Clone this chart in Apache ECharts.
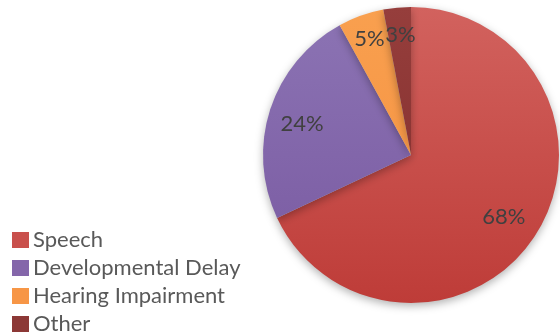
<!DOCTYPE html>
<html>
<head>
<meta charset="utf-8">
<script src="https://cdn.jsdelivr.net/npm/echarts@6/dist/echarts.min.js"></script>
<style>
html,body{margin:0;padding:0;background:#fff;}
#chart{width:560px;height:336px;}
</style>
</head>
<body>
<div id="chart"></div>
<script>
const categories = ['Speech', 'Developmental Delay', 'Hearing Impairment', 'Other'];
const values = [68, 24, 5, 3];
const topColors = ['#D2625E', '#8C74B4', '#F9A04F', '#963E3C'];
const bottomColors = ['#BE3C38', '#7858A0', '#F48E3E', '#7E2B2A'];
const solidColors = ['#C9504C', '#8466AA', '#F79646', '#8C3836'];

const CX = 411, CY = 155, R = 148;
// small nudges mimicking the original's best-fit label placement
const labelNudge = [[-11, -4], [8, 7], [0, 0], [1, 2]];

function grad(i) {
  return {
    type: 'linear', global: true,
    x: 0, y: CY - R, x2: 0, y2: CY + R,
    colorStops: [{offset: 0, color: topColors[i]}, {offset: 1, color: bottomColors[i]}]
  };
}

const chart = echarts.init(document.getElementById('chart'), null, {renderer: 'canvas'});
chart.setOption({
  animation: false,
  legend: {
    orient: 'vertical',
    left: 12,
    bottom: 1,
    padding: 0,
    itemWidth: 17,
    itemHeight: 16,
    itemGap: 6,
    icon: 'rect',
    textStyle: {fontFamily: 'Lato', fontSize: 22, color: '#595959', lineHeight: 22, padding: [0, 0, 0, -1]},
    data: categories.map((c, i) => ({name: c, itemStyle: {color: solidColors[i]}}))
  },
  series: [
    {
      type: 'pie',
      center: [CX, CY],
      radius: [0, R],
      startAngle: 90,
      clockwise: true,
      label: {show: false},
      labelLine: {show: false},
      emphasis: {disabled: true},
      itemStyle: {shadowBlur: 8, shadowOffsetY: 3, shadowColor: 'rgba(0,0,0,0.3)'},
      data: categories.map((c, i) => ({name: c, value: values[i], itemStyle: {color: grad(i)}}))
    },
    {
      type: 'pie',
      center: [CX, CY],
      radius: [R * 0.62, R],
      startAngle: 90,
      clockwise: true,
      silent: true,
      emphasis: {disabled: true},
      itemStyle: {color: 'rgba(0,0,0,0)'},
      label: {
        show: true,
        position: 'inside',
        formatter: '{d}%',
        fontFamily: 'Lato',
        fontSize: 22,
        color: '#404040'
      },
      labelLayout: function (p) {
        const n = labelNudge[p.dataIndex];
        return {dx: n[0], dy: n[1]};
      },
      labelLine: {show: false},
      data: categories.map((c, i) => ({name: c, value: values[i]}))
    }
  ]
});
</script>
</body>
</html>
